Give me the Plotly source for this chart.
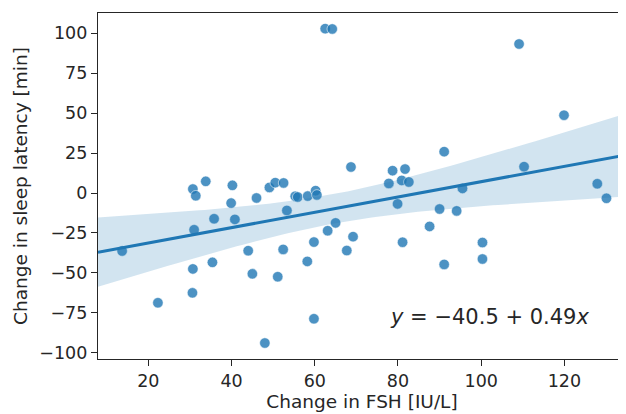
import numpy as np
import plotly.graph_objects as go

fsh_change = [13.7, 22.3, 30.7, 31.4, 33.8, 40.2, 39.9, 35.8, 40.8, 31.0,
              46.0, 49.1, 50.5, 52.5, 55.3, 55.9, 58.3, 60.2, 60.5, 53.3,
              44.0, 52.4, 59.8, 58.2, 35.4, 30.7, 45.0, 51.1, 30.6, 59.8,
              48.0, 68.7, 78.7, 81.7, 77.8, 80.9, 82.6, 91.1, 79.9, 95.5,
              90.0, 94.1, 65.0, 63.1, 69.2, 87.6, 81.1, 67.7, 91.1, 100.3,
              100.3, 127.9, 130.1, 109.1, 119.9, 110.3, 62.5, 64.2]
latency_change = [-36.3, -68.7, 2.5, -1.7, 7.3, 4.8, -6.3, -16.1, -16.5, -23.0,
                  -3.1, 3.5, 6.5, 6.3, -2.0, -2.5, -1.9, 1.5, -1.2, -10.9,
                  -36.1, -35.3, -30.7, -42.8, -43.4, -47.5, -50.6, -52.4, -62.5, -78.7,
                  -93.9, 16.3, 14.0, 15.0, 6.0, 7.9, 6.9, 25.9, -6.8, 2.9,
                  -10.0, -11.2, -18.7, -23.6, -27.3, -20.9, -30.8, -36.0, -44.7, -31.0,
                  -41.3, 5.8, -3.3, 93.3, 48.7, 16.5, 102.9, 102.7]

x_ticks = [20, 40, 60, 80, 100, 120]
y_ticks = [-100, -75, -50, -25, 0, 25, 50, 75, 100]
x_range = [7.9, 134.8]
y_range = [-103.9, 112.7]
equation = "<i>y</i> = −40.5 + 0.49<i>x</i>"

x = np.array(fsh_change)
y = np.array(latency_change)
n = len(x)
b1, b0 = np.polyfit(x, y, 1)
xs = np.linspace(x_range[0], x_range[1], 100)
ys = b0 + b1 * xs
resid = y - (b0 + b1 * x)
s = np.sqrt(np.sum(resid ** 2) / (n - 2))
se = s * np.sqrt(1 / n + (xs - x.mean()) ** 2 / np.sum((x - x.mean()) ** 2))
tcrit = 2.003
upper = ys + tcrit * se
lower = ys - tcrit * se

blue = "#1f77b4"
fig = go.Figure()
fig.add_trace(go.Scatter(x=x, y=y, mode="markers",
                         marker=dict(size=10.5, color="rgba(31,119,180,0.8)",
                                     line=dict(width=0.8, color="rgba(255,255,255,0.7)")),
                         showlegend=False, hoverinfo="skip"))
fig.add_trace(go.Scatter(x=np.concatenate([xs, xs[::-1]]),
                         y=np.concatenate([upper, lower[::-1]]),
                         fill="toself", fillcolor="rgba(31,119,180,0.2)",
                         line=dict(width=0), mode="lines", showlegend=False, hoverinfo="skip"))
fig.add_trace(go.Scatter(x=xs, y=ys, mode="lines", line=dict(color=blue, width=3),
                         showlegend=False, hoverinfo="skip"))

fig.add_annotation(x=77.5, y=-77.5, xref="x", yref="y", text=equation,
                   showarrow=False, xanchor="left", yanchor="middle",
                   font=dict(family="DejaVu Sans", size=21, color="#262626"))

axis_common = dict(showgrid=False, zeroline=False, showline=True, linecolor="#262626",
                   linewidth=1.3, ticks="outside", ticklen=6, tickwidth=1.3,
                   tickcolor="#262626",
                   tickfont=dict(family="DejaVu Sans", size=17.5, color="#262626"))
fig.update_xaxes(range=x_range, tickvals=x_ticks, mirror=True,
                 title=dict(text="Change in FSH [IU/L]", standoff=2,
                            font=dict(family="DejaVu Sans", size=18.5, color="#262626")),
                 **axis_common)
fig.update_yaxes(range=y_range, tickvals=y_ticks, mirror=False,
                 title=dict(text="Change in sleep latency [min]", standoff=6,
                            font=dict(family="DejaVu Sans", size=18.5, color="#262626")),
                 **axis_common)
fig.update_layout(width=618, height=406, margin=dict(l=90, r=0, t=5, b=55),
                  paper_bgcolor="white", plot_bgcolor="white",
                  font=dict(family="DejaVu Sans"))
fig.write_html("out.html")
